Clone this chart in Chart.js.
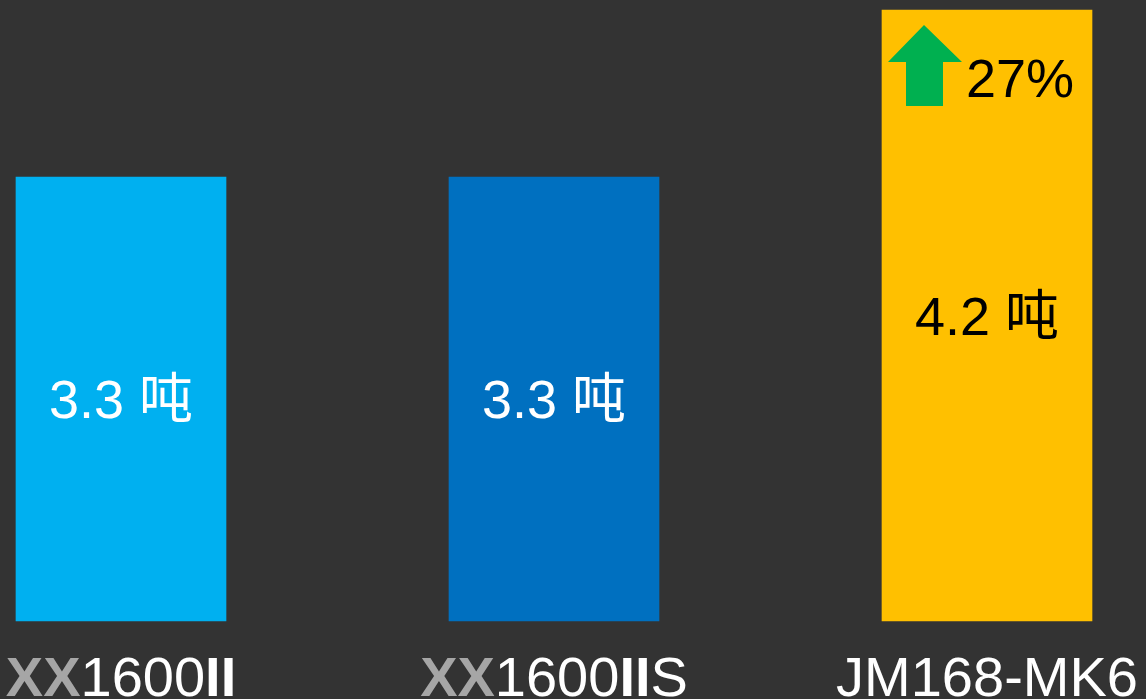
<!DOCTYPE html>
<html>
<head>
<meta charset="utf-8">
<script src="https://cdn.jsdelivr.net/npm/chart.js@4/dist/chart.umd.min.js"></script>
<style>
  html, body { margin: 0; padding: 0; background: #333333; }
  #wrap { width: 1146px; height: 699px; position: relative; }
</style>
</head>
<body>
<div id="wrap"><canvas id="c"></canvas></div>
<script>
const categories = ['XX1600II', 'XX1600IIS', 'JM168-MK6'];
const values = [3.3, 3.3, 4.2];
const unit = '吨';
const axisMin = 0.91;
const axisMax = 4.2;
const barColors = ['#00B0F0', '#0070C0', '#FFC000'];
const valueLabelColors = ['#FFFFFF', '#FFFFFF', '#000000'];

const FONT = '"Liberation Sans", Arial, "Noto Sans CJK SC", sans-serif';

const increasePct = Math.round((values[2] - values[0]) / values[0] * 100);

const overlayPlugin = {
  id: 'overlay',
  afterDatasetsDraw(chart) {
    const ctx = chart.ctx;
    const meta = chart.getDatasetMeta(0);
    ctx.save();
    ctx.font = '54px ' + FONT;
    ctx.textAlign = 'center';
    ctx.textBaseline = 'alphabetic';
    meta.data.forEach((bar, i) => {
      const cy = (bar.y + bar.base) / 2;
      ctx.fillStyle = valueLabelColors[i];
      ctx.fillText(values[i] + ' ' + unit, bar.x, cy + 19);
    });
    const last = meta.data[meta.data.length - 1];
    const left = last.x - last.width / 2;
    const top = last.y;
    ctx.fillStyle = '#00B050';
    ctx.beginPath();
    ctx.moveTo(left + 42, top + 15);
    ctx.lineTo(left + 80, top + 52);
    ctx.lineTo(left + 61, top + 52);
    ctx.lineTo(left + 61, top + 96);
    ctx.lineTo(left + 24, top + 96);
    ctx.lineTo(left + 24, top + 52);
    ctx.lineTo(left + 6, top + 52);
    ctx.closePath();
    ctx.fill();
    ctx.fillStyle = '#000000';
    ctx.font = '54px ' + FONT;
    ctx.textAlign = 'left';
    ctx.fillText(increasePct + '%', left + 84, top + 87);

    const xs = chart.scales.x;
    categories.forEach((label, i) => {
      const tokens = label.match(/XX|II|[^XI]+|./g);
      const styled = tokens.map(t => {
        if (t === 'XX') return { t, font: 'bold 56px ' + FONT, color: '#A6A6A6' };
        if (t === 'II') return { t, font: 'bold 56px ' + FONT, color: '#FFFFFF' };
        return { t, font: '56px ' + FONT, color: '#FFFFFF' };
      });
      let total = 0;
      styled.forEach(s => { ctx.font = s.font; s.w = ctx.measureText(s.t).width; total += s.w; });
      let x = xs.getPixelForValue(i) - total / 2;
      ctx.textAlign = 'left';
      styled.forEach(s => {
        ctx.font = s.font;
        ctx.fillStyle = s.color;
        ctx.fillText(s.t, x, 696);
        x += s.w;
      });
    });
    ctx.restore();
  }
};

new Chart(document.getElementById('c'), {
  type: 'bar',
  data: {
    labels: categories,
    datasets: [{
      data: values,
      base: axisMin,
      backgroundColor: barColors,
      borderWidth: 0,
      barThickness: 210,
      clip: false
    }]
  },
  options: {
    responsive: true,
    maintainAspectRatio: false,
    animation: false,
    devicePixelRatio: 1,
    layout: { padding: { left: 121, right: 159, top: 10, bottom: 78 } },
    plugins: { legend: { display: false }, tooltip: { enabled: false } },
    scales: {
      x: { display: false, offset: false, grid: { display: false } },
      y: { display: false, min: axisMin, max: axisMax, grid: { display: false } }
    }
  },
  plugins: [overlayPlugin]
});
</script>
</body>
</html>
